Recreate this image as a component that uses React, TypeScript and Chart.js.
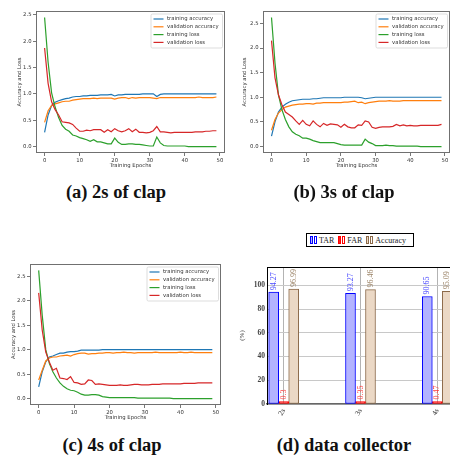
import React, { useEffect, useRef } from 'react';
import { Chart, registerables } from 'chart.js';

Chart.register(...registerables);

// ---------- data ----------
const EPOCHS = Array.from({ length: 50 }, (_, i) => i);
const SERIES_LABELS = ['training accuracy', 'validation accuracy', 'training loss', 'validation loss'];
const SERIES_COLORS = ['#1f77b4', '#ff7f0e', '#2ca02c', '#d62728'];

// (a) 2s of clap
const trainAcc2s = [0.27, 0.60, 0.78, 0.84, 0.87, 0.89, 0.91, 0.92, 0.94, 0.95, 0.95, 0.96, 0.96, 0.97, 0.97, 0.97, 0.98, 0.98, 0.98, 0.99, 0.96, 0.98, 0.98, 0.99, 0.99, 0.99, 0.99, 0.99, 1.0, 1.0, 1.0, 1.0, 0.95, 0.99, 1.0, 1.0, 1.0, 1.0, 1.0, 1.0, 1.0, 1.0, 1.0, 1.0, 1.0, 1.0, 1.0, 1.0, 1.0, 1.0];
const valAcc2s = [0.46, 0.68, 0.78, 0.81, 0.83, 0.85, 0.86, 0.86, 0.88, 0.89, 0.90, 0.91, 0.91, 0.91, 0.92, 0.91, 0.92, 0.92, 0.92, 0.92, 0.90, 0.92, 0.93, 0.93, 0.91, 0.93, 0.92, 0.93, 0.93, 0.93, 0.93, 0.92, 0.91, 0.93, 0.93, 0.93, 0.93, 0.93, 0.93, 0.93, 0.93, 0.93, 0.93, 0.93, 0.94, 0.93, 0.93, 0.93, 0.93, 0.94];
const trainLoss2s = [2.45, 1.60, 1.02, 0.75, 0.55, 0.40, 0.33, 0.29, 0.22, 0.20, 0.17, 0.15, 0.13, 0.10, 0.13, 0.09, 0.09, 0.07, 0.05, 0.05, 0.16, 0.08, 0.04, 0.04, 0.05, 0.05, 0.04, 0.04, 0.03, 0.02, 0.01, 0.01, 0.18, 0.07, 0.02, 0.01, 0.01, 0.01, 0.01, 0.01, 0.01, 0.0, 0.0, 0.0, 0.0, 0.0, 0.0, 0.0, 0.0, 0.0];
const valLoss2s = [1.87, 1.20, 0.85, 0.70, 0.60, 0.47, 0.46, 0.45, 0.42, 0.35, 0.29, 0.29, 0.31, 0.30, 0.32, 0.32, 0.32, 0.27, 0.32, 0.28, 0.34, 0.30, 0.28, 0.30, 0.34, 0.28, 0.33, 0.27, 0.27, 0.26, 0.27, 0.30, 0.38, 0.28, 0.28, 0.27, 0.26, 0.27, 0.27, 0.27, 0.27, 0.27, 0.27, 0.28, 0.28, 0.28, 0.29, 0.29, 0.30, 0.30];

// (b) 3s of clap
const trainAcc3s = [0.21, 0.50, 0.70, 0.80, 0.86, 0.90, 0.93, 0.94, 0.95, 0.96, 0.96, 0.96, 0.97, 0.97, 0.98, 0.99, 0.99, 0.99, 0.99, 0.99, 0.99, 1.0, 1.0, 1.0, 1.0, 1.0, 0.99, 0.97, 0.98, 0.99, 1.0, 1.0, 1.0, 1.0, 1.0, 1.0, 1.0, 1.0, 1.0, 1.0, 1.0, 1.0, 1.0, 1.0, 1.0, 1.0, 1.0, 1.0, 1.0, 1.0];
const valAcc3s = [0.33, 0.55, 0.68, 0.75, 0.80, 0.82, 0.84, 0.85, 0.86, 0.86, 0.87, 0.87, 0.86, 0.88, 0.88, 0.89, 0.89, 0.89, 0.89, 0.89, 0.89, 0.90, 0.90, 0.91, 0.92, 0.89, 0.90, 0.87, 0.89, 0.90, 0.91, 0.92, 0.92, 0.92, 0.93, 0.92, 0.92, 0.92, 0.93, 0.93, 0.93, 0.93, 0.93, 0.93, 0.93, 0.93, 0.93, 0.93, 0.93, 0.93];
const trainLoss3s = [2.62, 1.70, 1.05, 0.75, 0.55, 0.40, 0.30, 0.25, 0.22, 0.17, 0.17, 0.15, 0.12, 0.10, 0.08, 0.08, 0.08, 0.08, 0.08, 0.06, 0.04, 0.03, 0.03, 0.03, 0.03, 0.03, 0.03, 0.15, 0.09, 0.06, 0.02, 0.02, 0.02, 0.03, 0.02, 0.02, 0.01, 0.01, 0.01, 0.01, 0.01, 0.01, 0.01, 0.0, 0.0, 0.0, 0.0, 0.0, 0.0, 0.0];
const valLoss3s = [2.15, 1.40, 1.05, 0.85, 0.70, 0.65, 0.60, 0.52, 0.45, 0.53, 0.45, 0.42, 0.52, 0.45, 0.40, 0.47, 0.43, 0.46, 0.45, 0.44, 0.39, 0.45, 0.40, 0.38, 0.38, 0.44, 0.43, 0.52, 0.50, 0.39, 0.37, 0.39, 0.40, 0.40, 0.40, 0.41, 0.45, 0.42, 0.44, 0.42, 0.43, 0.42, 0.42, 0.43, 0.43, 0.43, 0.43, 0.43, 0.43, 0.45];

// (c) 4s of clap
const trainAcc4s = [0.24, 0.55, 0.75, 0.85, 0.87, 0.90, 0.93, 0.93, 0.95, 0.96, 0.96, 0.97, 0.99, 0.99, 0.99, 0.99, 0.99, 0.99, 1.0, 1.0, 1.0, 1.0, 1.0, 1.0, 1.0, 1.0, 1.0, 1.0, 1.0, 1.0, 1.0, 1.0, 1.0, 1.0, 1.0, 1.0, 1.0, 1.0, 1.0, 1.0, 1.0, 1.0, 1.0, 1.0, 1.0, 1.0, 1.0, 1.0, 1.0, 1.0];
const valAcc4s = [0.38, 0.58, 0.77, 0.83, 0.85, 0.85, 0.87, 0.88, 0.89, 0.87, 0.90, 0.92, 0.93, 0.93, 0.91, 0.92, 0.92, 0.93, 0.93, 0.94, 0.94, 0.93, 0.94, 0.94, 0.95, 0.94, 0.94, 0.93, 0.94, 0.94, 0.94, 0.94, 0.94, 0.95, 0.94, 0.94, 0.94, 0.94, 0.94, 0.94, 0.95, 0.94, 0.94, 0.95, 0.94, 0.94, 0.94, 0.94, 0.94, 0.94];
const trainLoss4s = [2.62, 1.70, 1.00, 0.72, 0.55, 0.42, 0.32, 0.25, 0.20, 0.17, 0.16, 0.13, 0.09, 0.07, 0.07, 0.08, 0.08, 0.07, 0.04, 0.03, 0.02, 0.02, 0.02, 0.02, 0.02, 0.02, 0.02, 0.02, 0.01, 0.01, 0.01, 0.01, 0.01, 0.01, 0.01, 0.01, 0.01, 0.01, 0.0, 0.0, 0.0, 0.0, 0.0, 0.0, 0.0, 0.0, 0.0, 0.0, 0.0, 0.0];
const valLoss4s = [2.16, 1.40, 0.95, 0.75, 0.58, 0.62, 0.42, 0.41, 0.39, 0.45, 0.33, 0.32, 0.29, 0.30, 0.38, 0.37, 0.29, 0.30, 0.29, 0.28, 0.27, 0.27, 0.27, 0.28, 0.27, 0.27, 0.28, 0.29, 0.29, 0.28, 0.28, 0.28, 0.29, 0.29, 0.29, 0.30, 0.30, 0.30, 0.30, 0.30, 0.30, 0.31, 0.31, 0.31, 0.31, 0.32, 0.32, 0.32, 0.32, 0.32];

const X_TICKS = [0, 10, 20, 30, 40, 50];
const Y_TICKS = [0, 0.5, 1.0, 1.5, 2.0, 2.5];

// (d) data collector
const CATEGORIES = ['2s', '3s', '4s'];
const TAR = [94.27, 93.27, 90.65];
const FAR = [0.3, 0.35, 0.47];
const ACCURACY = [96.99, 96.46, 95.09];
const BAR_Y_TICKS = [0, 20, 40, 60, 80, 100];
const BAR_LABELS = ['TAR', 'FAR', 'Accuracy'];
const BAR_FILL = ['#b3b3ff', '#ff2020', '#ebd8c5'];
const BAR_BORDER = ['#0000ff', '#ff0000', '#8c6a4a'];
const BAR_TEXT = ['#4a4aff', '#ff3a3a', '#9c8468'];

const SANS = '"DejaVu Sans", sans-serif';
const SERIF = '"Liberation Serif", serif';

// ---------- plugins ----------
const framePlugin = {
  id: 'frame',
  afterDraw(chart: any) {
    const { ctx, chartArea: a } = chart;
    ctx.save();
    ctx.strokeStyle = '#707070';
    ctx.lineWidth = 1;
    ctx.strokeRect(Math.round(a.left) + 0.5, Math.round(a.top) + 0.5, Math.round(a.right - a.left) - 1, Math.round(a.bottom - a.top) - 1);
    ctx.restore();
  },
};

const mplLegendPlugin = {
  id: 'mplLegend',
  afterDraw(chart: any) {
    const { ctx, chartArea: a } = chart;
    const w = 71.5, h = 34;
    const x = a.right - 2.5 - w, y = a.top + 3;
    ctx.save();
    ctx.fillStyle = 'rgba(255,255,255,0.85)';
    ctx.strokeStyle = '#d4d4d4';
    ctx.lineWidth = 0.8;
    ctx.beginPath();
    (ctx as any).roundRect ? ctx.roundRect(x, y, w, h, 1.5) : ctx.rect(x, y, w, h);
    ctx.fill();
    ctx.stroke();
    ctx.font = `5.3px ${SANS}`;
    ctx.textBaseline = 'middle';
    ctx.textAlign = 'left';
    chart.data.datasets.forEach((ds: any, i: number) => {
      const yy = y + 5 + i * 7.8;
      ctx.strokeStyle = ds.borderColor;
      ctx.lineWidth = 1.2;
      ctx.beginPath();
      ctx.moveTo(x + 2.5, yy);
      ctx.lineTo(x + 12.5, yy);
      ctx.stroke();
      ctx.fillStyle = '#333';
      ctx.fillText(ds.label, x + 16, yy);
    });
    ctx.restore();
  },
};

const barLabelPlugin = {
  id: 'barLabels',
  afterDatasetsDraw(chart: any) {
    const { ctx } = chart;
    ctx.save();
    ctx.font = `8px ${SERIF}`;
    ctx.textAlign = 'left';
    ctx.textBaseline = 'middle';
    chart.data.datasets.forEach((ds: any, i: number) => {
      const meta = chart.getDatasetMeta(i);
      meta.data.forEach((bar: any, j: number) => {
        ctx.save();
        ctx.translate(bar.x, bar.y - 2);
        ctx.rotate(-Math.PI / 2);
        ctx.fillStyle = BAR_TEXT[i];
        ctx.fillText(String(ds.data[j].y), 0, 0);
        ctx.restore();
      });
    });
    ctx.restore();
  },
};

const topLinePlugin = {
  id: 'topLine',
  afterDraw(chart: any) {
    const { ctx, chartArea: a } = chart;
    ctx.save();
    ctx.strokeStyle = '#000';
    ctx.lineWidth = 1;
    ctx.beginPath();
    ctx.moveTo(a.left, Math.round(a.top) + 0.5);
    ctx.lineTo(a.right, Math.round(a.top) + 0.5);
    ctx.stroke();
    ctx.restore();
  },
};

// ---------- configs ----------
function lineConfig(series: number[][], o: any) {
  const font = { family: SANS, size: 5.3 };
  return {
    type: 'line',
    data: {
      labels: EPOCHS,
      datasets: series.map((d, i) => ({
        label: SERIES_LABELS[i],
        data: d,
        borderColor: SERIES_COLORS[i],
        backgroundColor: SERIES_COLORS[i],
        borderWidth: 1.2,
        pointRadius: 0,
        tension: 0,
        fill: false,
        order: 4 - i,
      })),
    },
    options: {
      animation: false,
      responsive: false,
      maintainAspectRatio: false,
      events: [],
      layout: { padding: { left: o.padLeft, top: o.padTop, right: o.padRight, bottom: 0 } },
      plugins: { legend: { display: false }, tooltip: { enabled: false } },
      scales: {
        x: {
          type: 'linear',
          min: -2.45,
          max: 51.45,
          afterBuildTicks: (s: any) => { s.ticks = X_TICKS.map((v) => ({ value: v })); },
          afterFit: (s: any) => { s.height = 16; },
          ticks: { font, color: '#333', padding: 1.5, maxRotation: 0, autoSkip: false, callback: (v: any) => String(v) },
          grid: { drawOnChartArea: false, drawTicks: true, tickLength: 3, color: '#555', lineWidth: 0.8 },
          border: { display: false },
          title: { display: true, text: 'Training Epochs', font, color: '#333', padding: 0 },
        },
        y: {
          type: 'linear',
          min: o.yMin,
          max: o.yMax,
          afterBuildTicks: (s: any) => { s.ticks = Y_TICKS.map((v) => ({ value: v })); },
          afterFit: (s: any) => { s.width = o.yW; },
          ticks: { font, color: '#333', padding: 1.5, autoSkip: false, callback: (v: any) => Number(v).toFixed(1) },
          grid: { drawOnChartArea: false, drawTicks: true, tickLength: 3, color: '#555', lineWidth: 0.8 },
          border: { display: false },
          title: { display: true, text: 'Accuracy and Loss', font, color: '#333', padding: 0 },
        },
      },
    },
    plugins: [framePlugin, mplLegendPlugin],
  };
}

function barConfig() {
  const tickFont = { family: SERIF, size: 7.5, weight: 'bold' as const };
  const series = [TAR, FAR, ACCURACY];
  return {
    type: 'bar',
    data: {
      datasets: series.map((d, i) => ({
        label: BAR_LABELS[i],
        data: d.map((v, j) => ({ x: j, y: v })),
        backgroundColor: BAR_FILL[i],
        borderColor: BAR_BORDER[i],
        borderWidth: 1,
        borderSkipped: false,
        barThickness: 10,
        minBarLength: i === 1 ? 2.5 : 0,
      })),
    },
    options: {
      animation: false,
      responsive: false,
      maintainAspectRatio: false,
      events: [],
      layout: { padding: { left: 12.5, top: 17, right: 2, bottom: 0 } },
      plugins: { legend: { display: false }, tooltip: { enabled: false } },
      scales: {
        x: {
          type: 'linear',
          offset: false,
          min: -0.2174,
          max: 2.2174,
          afterBuildTicks: (s: any) => { s.ticks = [0, 1, 2].map((v) => ({ value: v })); },
          afterFit: (s: any) => { s.height = 21; },
          ticks: {
            font: { family: SERIF, size: 7.5 },
            color: '#333',
            padding: 3,
            autoSkip: false,
            minRotation: 60,
            maxRotation: 60,
            callback: (v: any) => CATEGORIES[v] ?? '',
          },
          grid: { offset: false, drawOnChartArea: true, drawTicks: false, color: '#a0a0a0', lineWidth: 0.8 },
          border: { display: true, color: '#666', width: 1.5 },
        },
        y: {
          type: 'linear',
          min: 0,
          max: 115.5,
          afterBuildTicks: (s: any) => { s.ticks = BAR_Y_TICKS.map((v) => ({ value: v })); },
          afterFit: (s: any) => { s.width = 29.5; },
          ticks: { font: tickFont, color: '#444', padding: 2, autoSkip: false, callback: (v: any) => String(v) },
          grid: { drawTicks: false, color: '#c8c8c8', lineWidth: 1 },
          border: { display: true, color: '#000', width: 1 },
          title: { display: true, text: '(%)', font: { family: SERIF, size: 7 }, color: '#444', padding: 0 },
        },
      },
    },
    plugins: [barLabelPlugin, topLinePlugin],
  };
}

// ---------- component ----------
const captionStyle = (cx: number, cy: number): React.CSSProperties => ({
  position: 'absolute',
  left: cx - 110,
  top: cy - 11,
  width: 220,
  height: 22,
  lineHeight: '22px',
  textAlign: 'center',
  fontFamily: SERIF,
  fontWeight: 'bold',
  fontSize: 18.5,
  color: '#111',
  whiteSpace: 'nowrap',
});

export default function App() {
  const refA = useRef<HTMLCanvasElement>(null);
  const refB = useRef<HTMLCanvasElement>(null);
  const refC = useRef<HTMLCanvasElement>(null);
  const refD = useRef<HTMLCanvasElement>(null);

  useEffect(() => {
    const charts: Chart[] = [];
    charts.push(new Chart(refA.current as any, lineConfig([trainAcc2s, valAcc2s, trainLoss2s, valLoss2s], { padLeft: 16, padTop: 11, padRight: 2, yW: 20, yMin: -0.1225, yMax: 2.5725 }) as any));
    charts.push(new Chart(refB.current as any, lineConfig([trainAcc3s, valAcc3s, trainLoss3s, valLoss3s], { padLeft: 16, padTop: 11, padRight: 1, yW: 22, yMin: -0.131, yMax: 2.751 }) as any));
    charts.push(new Chart(refC.current as any, lineConfig([trainAcc4s, valAcc4s, trainLoss4s, valLoss4s], { padLeft: 10, padTop: 14, padRight: 2, yW: 20, yMin: -0.131, yMax: 2.751 }) as any));
    charts.push(new Chart(refD.current as any, barConfig() as any));
    return () => charts.forEach((c) => c.destroy());
  }, []);

  const canvasStyle = (left: number, top: number, w: number, h: number): React.CSSProperties => ({
    position: 'absolute', left, top, width: w, height: h, display: 'block',
  });

  const legendBox = (color: string, fill: string): React.CSSProperties => ({
    display: 'inline-block', width: 3, height: 8, boxSizing: 'border-box', border: `1px solid ${color}`, background: fill, marginRight: 1,
  });

  return (
    <div style={{ position: 'fixed', left: 0, top: 0, width: 450, height: 456, overflow: 'hidden', background: '#fff' }}>
      <canvas ref={refA} width={227} height={169} style={canvasStyle(0, 0, 227, 169)} />
      <canvas ref={refB} width={226} height={169} style={canvasStyle(225, 0, 226, 169)} />
      <canvas ref={refC} width={223} height={171} style={canvasStyle(0, 250, 223, 171)} />
      <canvas ref={refD} width={231} height={175} style={canvasStyle(225, 250, 231, 175)} />

      <div style={{ position: 'absolute', left: 306, top: 233, width: 108, height: 14, boxSizing: 'border-box', border: '1px solid #000', display: 'flex', alignItems: 'center', paddingLeft: 3, fontFamily: SERIF, fontSize: 8, color: '#222', background: '#fff' }}>
        {BAR_LABELS.map((lab, i) => (
          <span key={lab} style={{ display: 'inline-flex', alignItems: 'center', marginRight: 4 }}>
            <span style={legendBox(BAR_BORDER[i], BAR_FILL[i])} />
            <span style={legendBox(BAR_BORDER[i], '#fff')} />
            <span style={{ marginLeft: 1 }}>{lab}</span>
          </span>
        ))}
      </div>

      <div style={captionStyle(116, 192)}>(a) 2s of clap</div>
      <div style={captionStyle(344, 192)}>(b) 3s of clap</div>
      <div style={captionStyle(112, 445)}>(c) 4s of clap</div>
      <div style={captionStyle(344, 445)}>(d) data collector</div>
    </div>
  );
}
